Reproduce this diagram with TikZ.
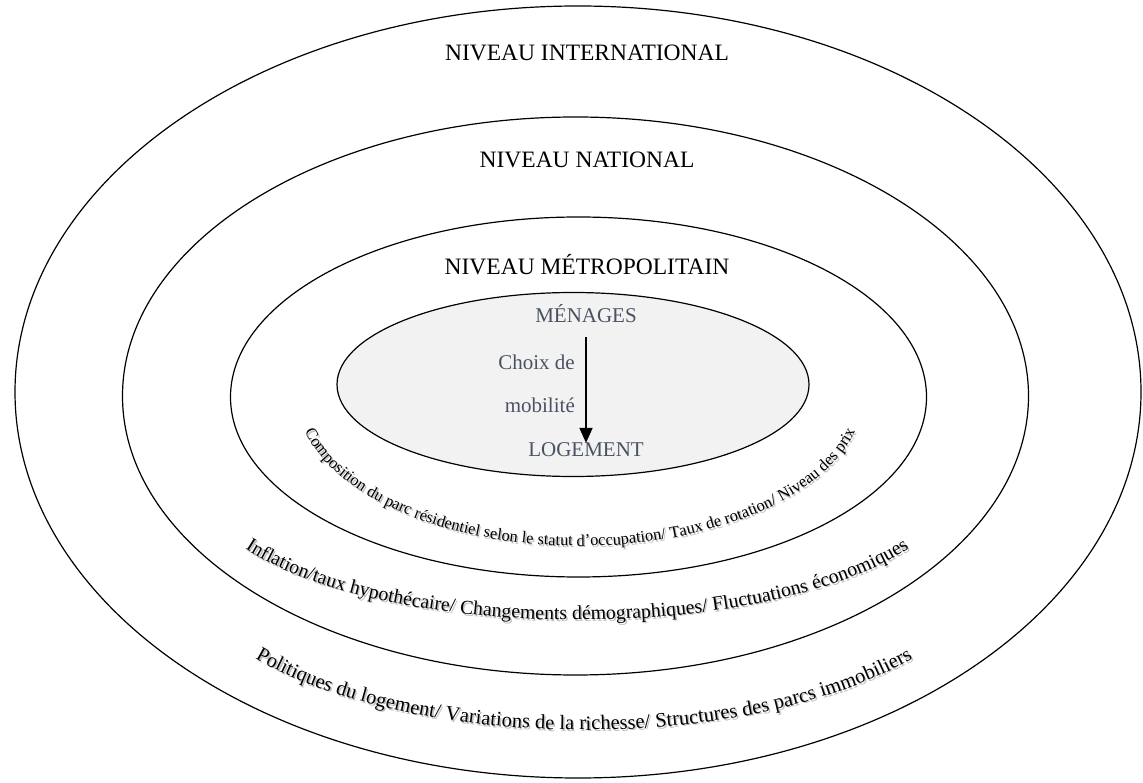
\documentclass[tikz,border=0pt]{standalone}
\usepackage{fontspec}
\setmainfont{Liberation Serif}
\usetikzlibrary{decorations.text,arrows.meta}

\definecolor{inktext}{HTML}{4A5262}
\definecolor{corefill}{HTML}{F2F2F2}

% curved caption along the lower half of an ellipse, with a soft shadow
% #1 centre x, #2 centre y, #3 x radius, #4 y radius, #5 font size, #6 text
\newcommand{\bandcaption}[6]{%
  \path[decorate, shift={(1.4,-1.8)},
        decoration={text along path, text align=center, text color=black!25,
                    text={|\fontsize{#5}{#5}\selectfont|#6}}]
    (#1-#3,#2) arc[start angle=180, end angle=360, x radius=#3, y radius=#4];
  \path[decorate,
        decoration={text along path, text align=center, text color=black,
                    text={|\fontsize{#5}{#5}\selectfont|#6}}]
    (#1-#3,#2) arc[start angle=180, end angle=360, x radius=#3, y radius=#4];
}

\tikzset{
  ring/.style={draw=black, line width=1.2pt},
  level/.style={font=\fontsize{23.5}{26}\selectfont, inner sep=0pt, anchor=base},
  core/.style={font=\fontsize{21}{24}\selectfont, text=inktext, inner sep=0pt, anchor=base},
  flow/.style={line width=1.6pt, -{Triangle[width=13pt,length=15pt]}},
}

\begin{document}
\begin{tikzpicture}[x=1pt, y=1pt]
  \useasboundingbox (0,0) rectangle (1143,782);
  \fill[white] (0,0) rectangle (1143,782);

  % nested levels
  \draw[ring] (578,390) ellipse [x radius=563, y radius=386];
  \draw[ring] (575.5,386) ellipse [x radius=453, y radius=279];
  \draw[ring] (578.5,385) ellipse [x radius=348, y radius=180];
  \draw[ring, fill=corefill] (573,397.5) ellipse [x radius=236, y radius=92];

  % level titles
  \node[level] (intl) at (587,721) {NIVEAU INTERNATIONAL};
  \node[level] (natl) at (587,614) {NIVEAU NATIONAL};
  \node[level] (metro) at (587,507) {NIVEAU MÉTROPOLITAIN};

  % households and dwelling
  \node[core] (men) at (586,459) {MÉNAGES};
  \node[core] (log) at (586,325) {LOGEMENT};
  \node[core, anchor=base east] (choix) at (575,412) {Choix de};
  \node[core, anchor=base east] (mobil) at (575,369) {mobilité};
  \draw[flow, shorten <=14pt] (men.south) -- (log.north);

  % factors at each level
  \bandcaption{580}{386}{283}{150}{16.4}{Composition du parc résidentiel selon le statut d’occupation/ Taux de rotation/ Niveau des prix}
  \bandcaption{577}{302}{381}{140}{19.8}{Inflation/taux hypothécaire/ Changements démographiques/ Fluctuations économiques}
  \bandcaption{584}{232}{412}{180}{20.5}{Politiques du logement/ Variations de la richesse/ Structures des parcs immobiliers}
\end{tikzpicture}
\end{document}
